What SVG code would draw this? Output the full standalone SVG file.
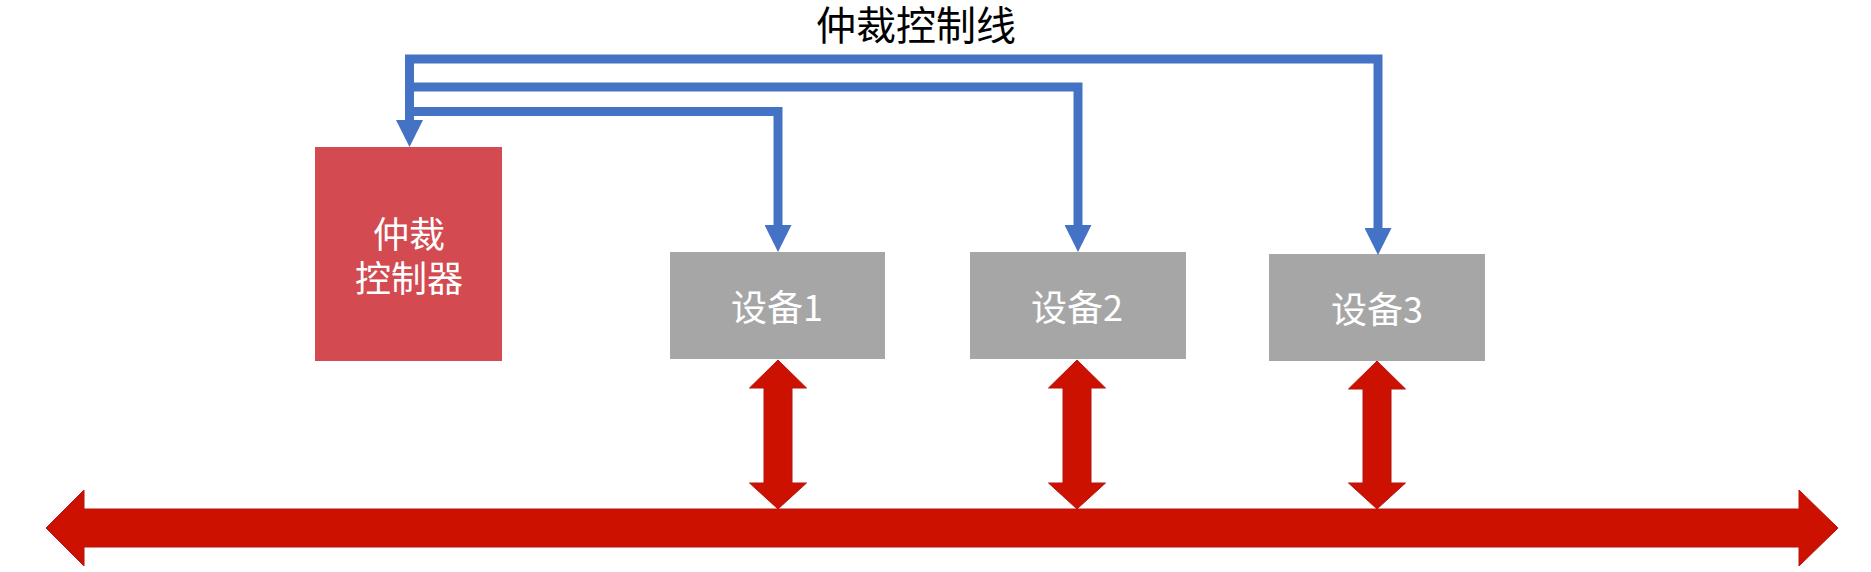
<svg xmlns="http://www.w3.org/2000/svg" width="1871" height="572" viewBox="0 0 1871 572">
  <style>
    .ctl { fill: none; stroke: #4472C4; stroke-width: 9; stroke-linejoin: miter; }
    .bus { fill: #CC1100; stroke: #B81212; stroke-width: 1; }
    .dev rect { fill: #A6A6A6; }
    .dev text { fill: #FFFFFF; font-family: "Noto Sans CJK SC", "Noto Sans", sans-serif; font-size: 36px; text-anchor: middle; }
    .arb rect { fill: #D34A50; }
    .arb text { fill: #FFFFFF; font-family: "Noto Sans CJK SC", "Noto Sans", sans-serif; font-size: 36px; text-anchor: middle; }
    .title { fill: #000000; font-family: "Noto Sans CJK SC", "Noto Sans", sans-serif; font-size: 40px; text-anchor: middle; }
  </style>
  <defs>
    <marker id="ah" markerUnits="userSpaceOnUse" markerWidth="27" markerHeight="27" viewBox="0 0 27 27" refX="0" refY="13.5" orient="auto-start-reverse">
      <path d="M0,0 L27,13.5 L0,27 Z" fill="#4472C4"/>
    </marker>
  </defs>

  <text class="title" x="916" y="40">仲裁控制线</text>

  <g id="arbiter" class="arb">
    <rect x="315" y="147" width="187" height="214"/>
    <text x="409" y="248">仲裁</text>
    <text x="409" y="292">控制器</text>
  </g>
  <g id="device1" class="dev">
    <rect x="670" y="252" width="215" height="107"/>
    <text x="777" y="321">设备1</text>
  </g>
  <g id="device2" class="dev">
    <rect x="970" y="252" width="216" height="107"/>
    <text x="1077" y="321">设备2</text>
  </g>
  <g id="device3" class="dev">
    <rect x="1269" y="254" width="216" height="107"/>
    <text x="1377" y="323">设备3</text>
  </g>

  <g id="connectors">
    <path class="ctl" d="M1378,228 L1378,59 L409.5,59 L409.5,120" marker-start="url(#ah)" marker-end="url(#ah)"/>
    <path class="ctl" d="M409.5,87 L1078,87 L1078,225"  marker-end="url(#ah)"/>
    <path class="ctl" d="M409.5,111.5 L778,111.5 L778,225" marker-end="url(#ah)"/>

    <path class="bus" d="M46,528 L84,490 L84,509 L1799,509 L1799,490 L1838,528 L1799,566 L1799,547 L84,547 L84,566 Z"/>
    <path class="bus" d="M778,360 L806.5,388 L792,388 L792,483 L806.5,483 L778,509 L749.5,483 L764,483 L764,388 L749.5,388 Z"/>
    <path class="bus" d="M1077,360 L1105.5,388 L1091,388 L1091,483 L1105.5,483 L1077,509 L1048.5,483 L1063,483 L1063,388 L1048.5,388 Z"/>
    <path class="bus" d="M1377,361 L1405.5,389 L1391,389 L1391,483 L1405.5,483 L1377,509 L1348.5,483 L1363,483 L1363,389 L1348.5,389 Z"/>
  </g>
</svg>
